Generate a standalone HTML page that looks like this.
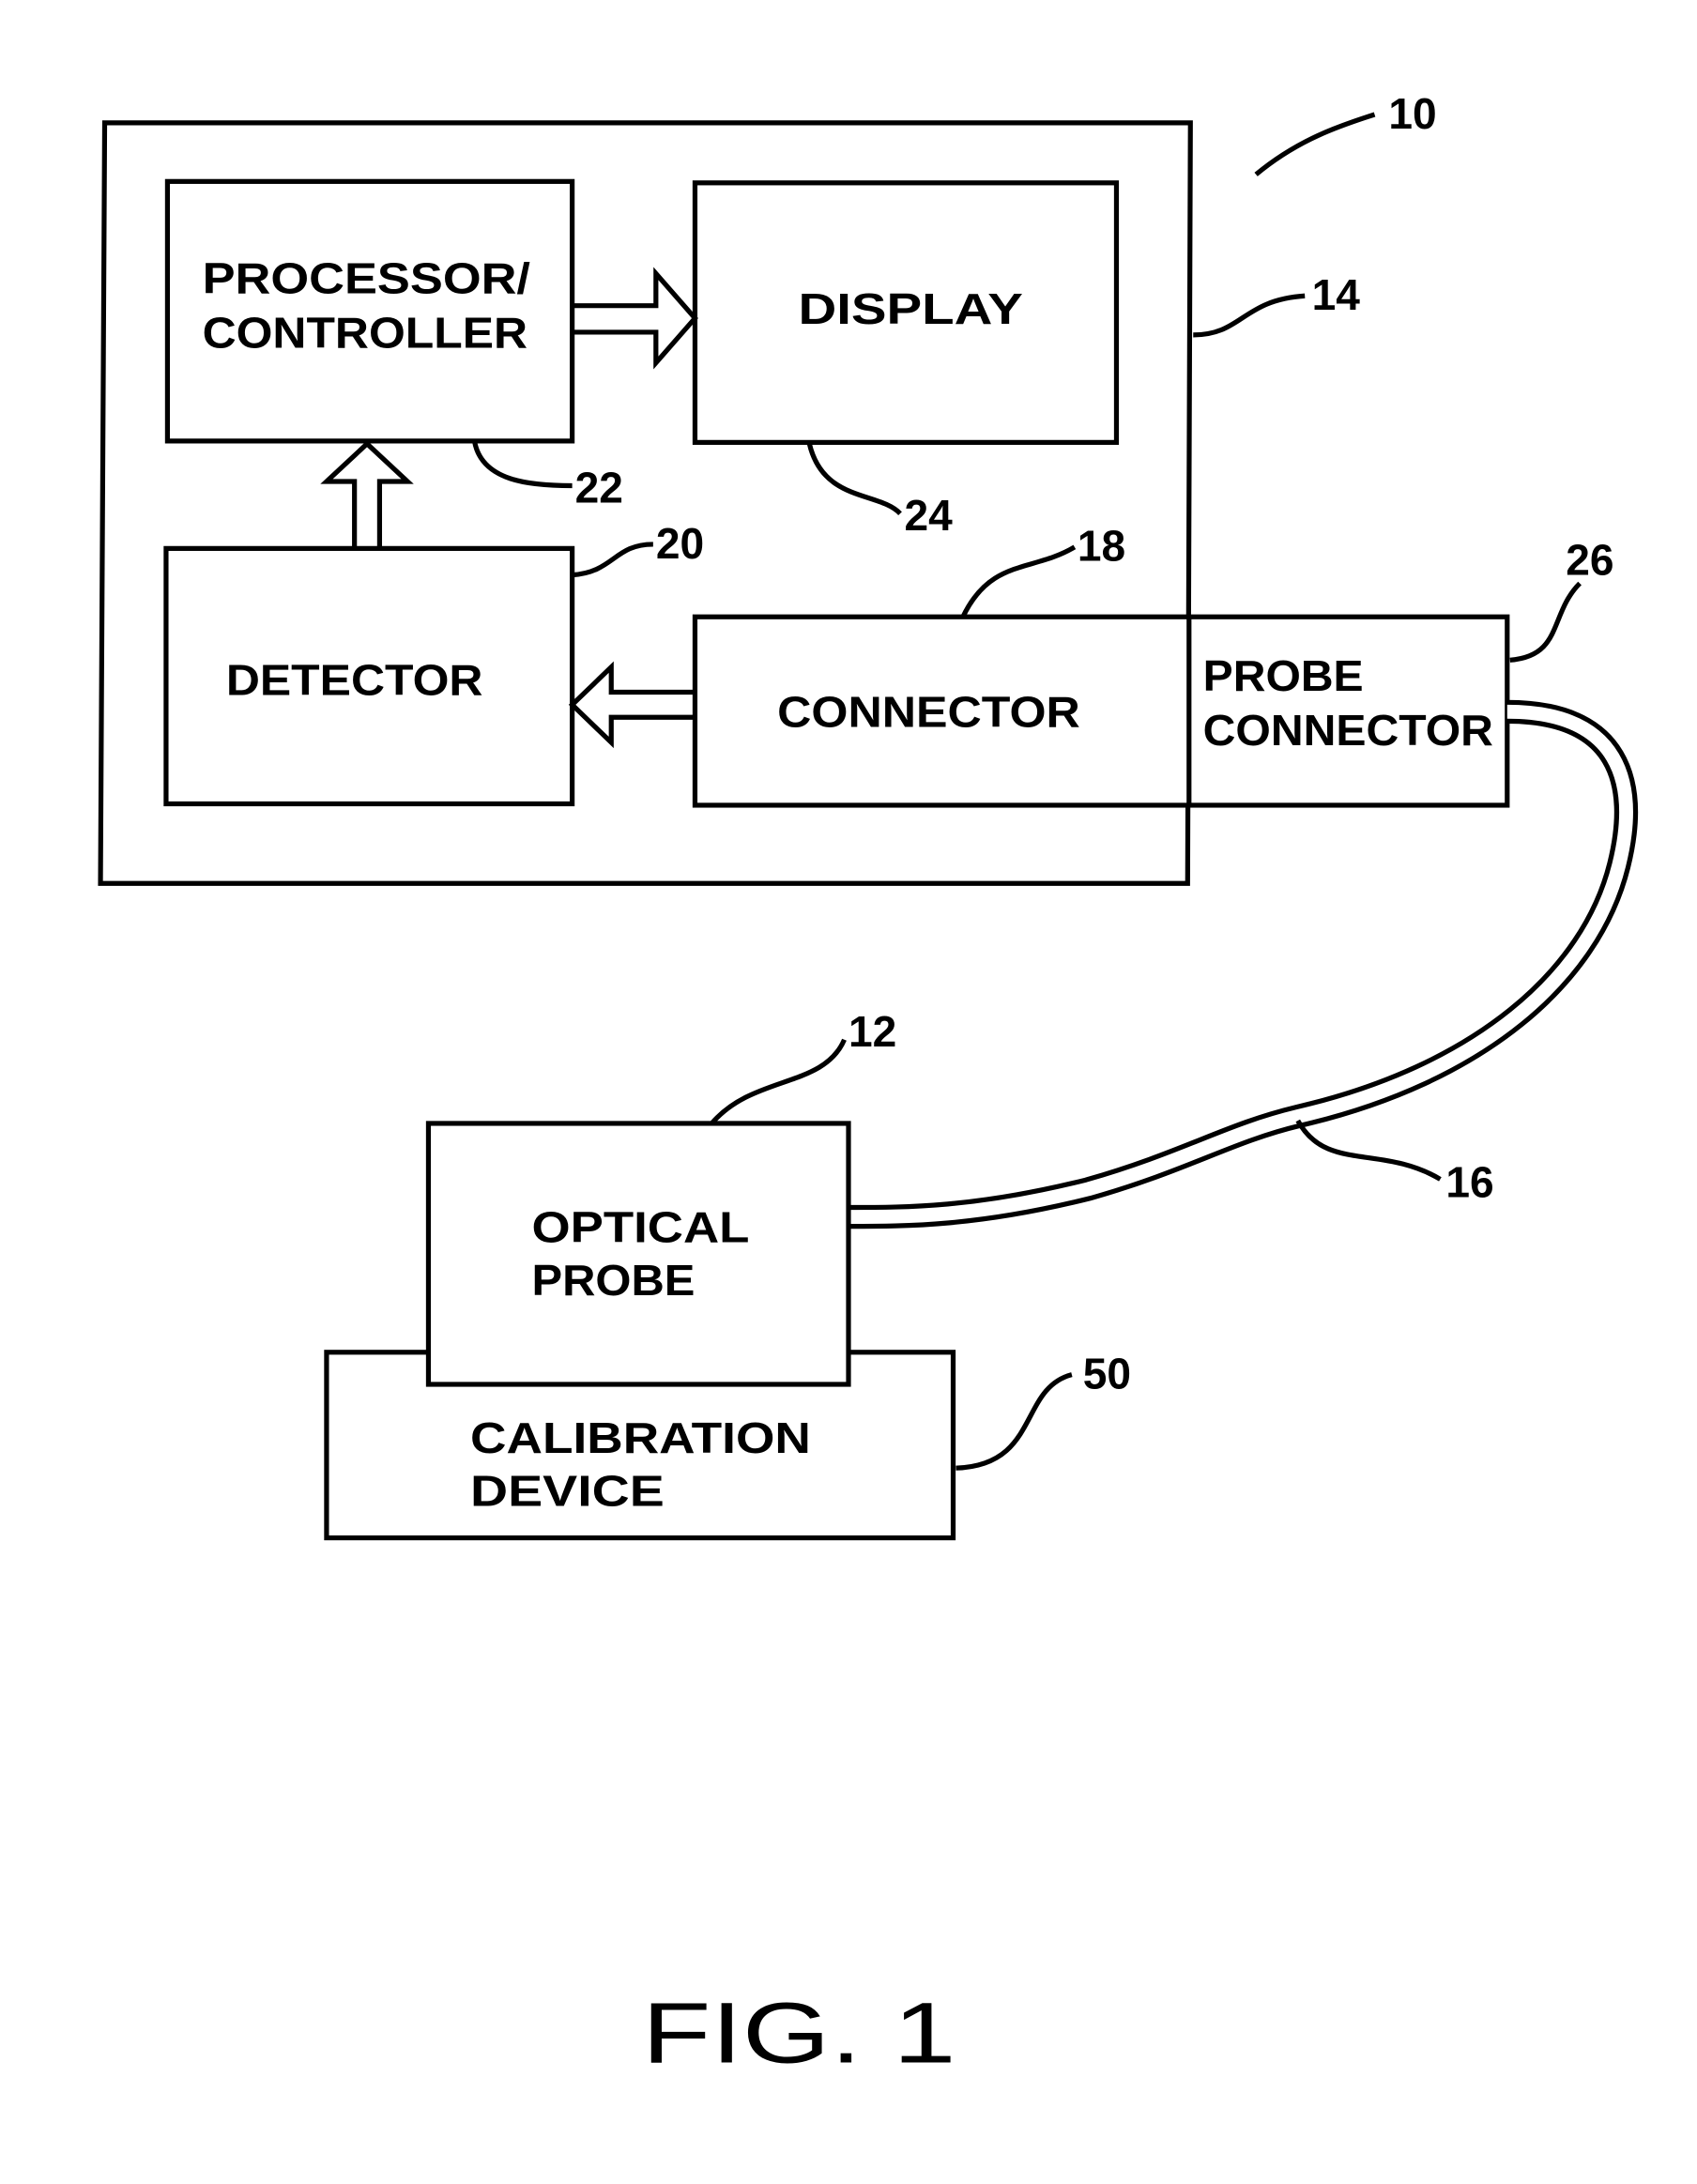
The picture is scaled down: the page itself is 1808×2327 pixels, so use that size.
<!DOCTYPE html>
<html><head><meta charset="utf-8"><style>
html,body{margin:0;padding:0;background:#fff;}
svg{display:block}
text{font-family:"Liberation Sans",sans-serif;font-weight:bold;fill:#000;}
</style></head><body>
<svg width="1808" height="2327" viewBox="0 0 1216 1565" xmlns="http://www.w3.org/2000/svg">
<g fill="none" stroke="#000" stroke-width="3.5">
<path d="M75,88 L853,88 L851,633 L72,633 Z"/>
<rect x="120" y="130" width="290" height="186"/>
<rect x="498" y="131" width="302" height="186"/>
<rect x="119" y="393" width="291" height="183"/>
<rect x="498" y="442" width="582" height="135" fill="#fff"/>
<line x1="852" y1="442" x2="852" y2="577"/>
<path d="M1080,510 C1160,510 1175,560 1160,620 C1140,700 1060,770 930,800 C880,812 850,832 780,852 C700,872 650,872 608,872" stroke-width="17"/>
<path d="M1080,510 C1160,510 1175,560 1160,620 C1140,700 1060,770 930,800 C880,812 850,832 780,852 C700,872 650,872 608,872" stroke="#fff" stroke-width="10"/>
<rect x="234" y="969" width="449" height="133"/>
<rect x="307" y="805" width="301" height="187" fill="#fff"/>
<path d="M410,219 L470,219 L470,196 L498,228 L470,260 L470,238 L410,238"/>
<path d="M254,393 L254,345 L234,345 L263,318 L292,345 L272,345 L272,393"/>
<path d="M498,496 L438,496 L438,478 L410,505 L438,532 L438,514 L498,514"/>
<path d="M900,125 C930,100 960,90 985,82"/>
<path d="M855,240 C890,240 890,215 935,212"/>
<path d="M340,316 C345,345 380,348 410,348"/>
<path d="M580,318 C590,360 630,352 645,368"/>
<path d="M410,412 C440,410 440,390 468,390"/>
<path d="M690,442 C710,400 740,410 770,392"/>
<path d="M1082,473 C1120,470 1110,440 1132,418"/>
<path d="M510,805 C540,770 590,780 605,745"/>
<path d="M930,803 C950,840 990,820 1032,845"/>
<path d="M685,1052 C745,1050 730,995 768,985"/>
</g>
<g font-size="31" lengthAdjust="spacingAndGlyphs">
<text x="145" y="210" textLength="235" lengthAdjust="spacingAndGlyphs">PROCESSOR/</text>
<text x="145" y="249" textLength="233" lengthAdjust="spacingAndGlyphs">CONTROLLER</text>
<text x="572" y="232" textLength="161" lengthAdjust="spacingAndGlyphs">DISPLAY</text>
<text x="162" y="498" textLength="184" lengthAdjust="spacingAndGlyphs">DETECTOR</text>
<text x="557" y="521" textLength="217" lengthAdjust="spacingAndGlyphs">CONNECTOR</text>
<text x="862" y="495" textLength="115" lengthAdjust="spacingAndGlyphs">PROBE</text>
<text x="862" y="534" textLength="208" lengthAdjust="spacingAndGlyphs">CONNECTOR</text>
<text x="381" y="890" textLength="156" lengthAdjust="spacingAndGlyphs">OPTICAL</text>
<text x="381" y="928" textLength="117" lengthAdjust="spacingAndGlyphs">PROBE</text>
<text x="337" y="1041" textLength="244" lengthAdjust="spacingAndGlyphs">CALIBRATION</text>
<text x="337" y="1079" textLength="139" lengthAdjust="spacingAndGlyphs">DEVICE</text>
</g>
<g font-size="31">
<text x="995" y="92">10</text>
<text x="940" y="222">14</text>
<text x="412" y="360">22</text>
<text x="648" y="380">24</text>
<text x="470" y="400">20</text>
<text x="772" y="402">18</text>
<text x="1122" y="412">26</text>
<text x="608" y="750">12</text>
<text x="1036" y="858">16</text>
<text x="776" y="995">50</text>
</g>
<text x="460" y="1478" font-size="62" textLength="225" lengthAdjust="spacingAndGlyphs" style="font-weight:normal">FIG. 1</text>
</svg>
</body></html>
